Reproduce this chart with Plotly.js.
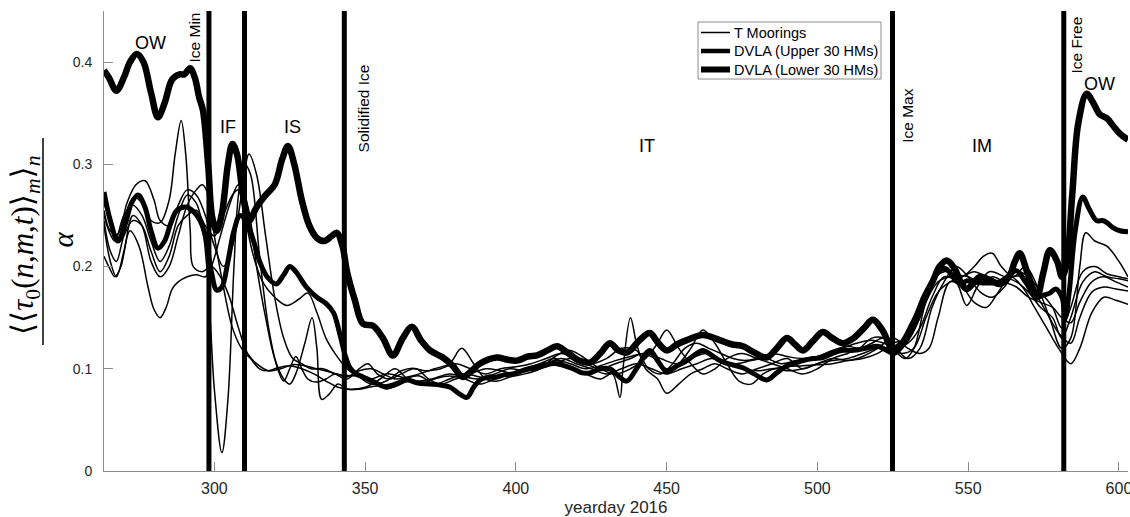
<!DOCTYPE html>
<html>
<head>
<meta charset="utf-8">
<script src="https://cdn.plot.ly/plotly-3.0.1.min.js"></script>
<style>
  html, body { margin: 0; padding: 0; background: #fff; }
  #chart { width: 1130px; height: 517px; }
</style>
</head>
<body>
<div id="chart"></div>
<script>
// ---- Temperature moorings (thin lines) ----
const mooring1Day = [263.4,266,268,271,273.5,276,279,282,285,287,289,290.5,292,293,296,299,302,305,308,311,314,318,322,326,330,334,338,342,347,352,357,362,367,372,378,383,388,393,398,403,408,413,418,423,428,433,438,443,448,453,458,463,468,473,478,483,488,493,498,503,508,513,518,522,526,530,534,538,542,546,549.5,553,557,562,566,570,574,578,581,584,588,592,596,600,603];
const mooring1Val = [0.262,0.24,0.225,0.255,0.268,0.262,0.245,0.243,0.265,0.31,0.343,0.31,0.235,0.2,0.195,0.2,0.19,0.17,0.14,0.115,0.105,0.098,0.1,0.104,0.103,0.1,0.097,0.094,0.093,0.09,0.095,0.092,0.088,0.09,0.095,0.092,0.09,0.095,0.1,0.098,0.1,0.108,0.105,0.1,0.103,0.108,0.112,0.115,0.11,0.105,0.11,0.115,0.108,0.105,0.108,0.11,0.105,0.108,0.11,0.115,0.12,0.125,0.128,0.125,0.12,0.125,0.14,0.17,0.19,0.185,0.162,0.18,0.195,0.19,0.185,0.175,0.16,0.15,0.13,0.15,0.185,0.195,0.19,0.188,0.186];

const mooring2Day = [263.4,265,267,269,272,275,278,280,282,284,286,288,291,294,297,299,302,305,308,311,314,317,320,323,325,327,330,332.4,334,335.6,338,341,344,348,353,358,363,368,373,378,383,388,393,398,403,408,413,418,423,428,432,434.5,435.5,438,440,443,447,450,454,458,462,466,470,475,480,485,490,495,500,505,510,515,520,525,530,534,537,540,544,548,552,556,560,564,568,572,576,580,584,587,591,595,599,603];
const mooring2Val = [0.21,0.2,0.19,0.2,0.235,0.22,0.18,0.158,0.15,0.16,0.178,0.185,0.19,0.192,0.19,0.2,0.23,0.26,0.28,0.26,0.2,0.15,0.11,0.09,0.085,0.095,0.125,0.15,0.12,0.07,0.075,0.085,0.08,0.08,0.083,0.085,0.09,0.093,0.085,0.09,0.095,0.092,0.09,0.095,0.1,0.105,0.11,0.1,0.095,0.09,0.095,0.072,0.1,0.15,0.125,0.1,0.09,0.076,0.085,0.095,0.1,0.105,0.1,0.095,0.1,0.105,0.11,0.1,0.105,0.11,0.108,0.112,0.12,0.13,0.12,0.115,0.12,0.15,0.185,0.18,0.165,0.16,0.175,0.19,0.18,0.16,0.14,0.12,0.105,0.12,0.155,0.17,0.167,0.163];

const mooring3Day = [263.4,265,267,270,273,276,279,282,285,288,291,294,296,298,300,302.5,304.5,306.5,308,310,312,315,318,321,323,325,327,329,331,334,337,340,344,348,352,356,360,364,368,373,378,382,386,390,394,398,403,408,413,418,423,428,433,438,443,447,450,454,458,462,466,470,475,480,485,490,495,500,505,510,514,518,522,525,529,532,536,540,544,548,552,555,558,561,565,569,573,577,581,584,587,589,592,596,600,603];
const mooring3Val = [0.25,0.235,0.225,0.25,0.26,0.25,0.225,0.205,0.22,0.25,0.27,0.262,0.24,0.18,0.08,0.018,0.07,0.2,0.27,0.3,0.29,0.21,0.14,0.1,0.088,0.1,0.112,0.1,0.09,0.087,0.09,0.095,0.092,0.098,0.1,0.095,0.09,0.092,0.095,0.1,0.105,0.12,0.105,0.09,0.088,0.092,0.095,0.1,0.112,0.118,0.11,0.1,0.095,0.1,0.11,0.125,0.138,0.12,0.105,0.095,0.1,0.11,0.115,0.11,0.105,0.1,0.095,0.1,0.11,0.115,0.12,0.13,0.13,0.12,0.11,0.12,0.165,0.185,0.19,0.19,0.2,0.21,0.213,0.2,0.19,0.2,0.18,0.15,0.12,0.13,0.2,0.233,0.225,0.22,0.205,0.19];

const mooring4Day = [263.4,265.5,267.5,270,273,276,279,282,285,288,291,294,297,300,303,306,308,310,313,316,320,324,328,331,334,337,340,344,348,352,357,362,367,371,375,380,385,390,395,400,405,410,415,420,425,430,435,440,445,450,455,460,465,470,475,480,485,490,495,500,505,510,515,520,525,530,534,538,542,546,550,554,558,562,566,570,574,578,581,584,587,591,595,599,603];
const mooring4Val = [0.245,0.215,0.205,0.23,0.245,0.24,0.215,0.195,0.21,0.24,0.25,0.255,0.24,0.23,0.25,0.27,0.275,0.25,0.21,0.185,0.17,0.162,0.168,0.174,0.155,0.13,0.115,0.1,0.092,0.085,0.088,0.098,0.1,0.09,0.085,0.09,0.095,0.1,0.098,0.095,0.1,0.105,0.11,0.105,0.1,0.095,0.1,0.105,0.1,0.095,0.1,0.105,0.11,0.105,0.1,0.098,0.1,0.102,0.103,0.104,0.105,0.108,0.11,0.115,0.125,0.13,0.15,0.185,0.195,0.192,0.19,0.185,0.19,0.185,0.18,0.17,0.165,0.16,0.15,0.145,0.165,0.185,0.19,0.185,0.18];

const mooring5Day = [263.4,265.5,267.5,270,273,276,279,282,285,288,291,294,296,298,300,303,306,309,312,315,318,321,325,329,333,337,341,345,350,355,360,364,368,373,378,383,388,393,398,403,408,413,418,423,428,433,438,442,446,450,454,458,462,466,470,474,478,482,486,490,495,500,505,510,515,520,524,528,532,536,540,544,548,552,556,560,564,568,572,576,580,584,587,591,595,599,603];
const mooring5Val = [0.24,0.205,0.19,0.215,0.25,0.24,0.205,0.19,0.2,0.23,0.26,0.275,0.28,0.27,0.23,0.18,0.14,0.12,0.11,0.1,0.098,0.101,0.103,0.1,0.095,0.088,0.082,0.08,0.082,0.09,0.1,0.09,0.085,0.09,0.093,0.09,0.085,0.09,0.095,0.098,0.1,0.105,0.11,0.105,0.1,0.105,0.11,0.115,0.11,0.1,0.105,0.12,0.138,0.125,0.105,0.088,0.085,0.095,0.1,0.098,0.1,0.105,0.108,0.11,0.115,0.12,0.12,0.115,0.12,0.15,0.175,0.185,0.19,0.195,0.19,0.185,0.19,0.19,0.175,0.155,0.135,0.125,0.15,0.175,0.18,0.178,0.176];

const mooring6Day = [263.4,265.5,268,271,274,277,280,282,285,288,291,294,297,300,303,306,309,311.5,314,317,320,323,326,329,332,336,340,344,348,351,354,358,362,366,370,375,380,385,390,395,400,405,410,415,420,425,430,435,440,444,448,452,456,460,464,468,472,476,480,485,490,495,500,505,510,514,518,522,526,530,534,538,542,546,550,554,558,562,566,570,574,578,581,584,588,592,596,600,603];
const mooring6Val = [0.255,0.235,0.232,0.262,0.28,0.284,0.265,0.245,0.24,0.26,0.275,0.27,0.25,0.22,0.2,0.22,0.27,0.31,0.29,0.23,0.17,0.13,0.11,0.105,0.1,0.1,0.095,0.09,0.1,0.105,0.095,0.09,0.095,0.1,0.098,0.1,0.105,0.1,0.095,0.1,0.102,0.105,0.11,0.115,0.11,0.105,0.11,0.12,0.118,0.1,0.095,0.105,0.12,0.125,0.12,0.115,0.11,0.108,0.11,0.115,0.112,0.11,0.112,0.118,0.122,0.12,0.125,0.13,0.12,0.11,0.12,0.16,0.185,0.2,0.19,0.175,0.17,0.18,0.195,0.19,0.175,0.16,0.14,0.16,0.195,0.2,0.193,0.19,0.188];

// ---- DVLA, upper 30 hydrophone modes ----
const dvlaUpperDay = [263.4,265.5,268,270.5,272.5,274.7,277,279,281.3,283.5,285.5,287.6,290.9,294.2,296,297.5,299,300.8,302.5,304.5,306.5,308.5,310.8,313,315,317.5,320.5,323,325,327,330.5,334,337,339.5,341.6,343.5,345,347,349.3,353,357.2,360.5,363.9,367.5,371.5,375,378.2,381,383.7,386,388.1,391,393.7,396,399,402,405.6,409.5,413.6,416,419,422,424.5,428,431.2,434,436.8,440,444.4,447,450.1,453,456.7,459,462,465,467.6,471.5,475.3,479,483.2,486.5,489.9,493,495.2,498.5,501.8,505,508.4,512,516,520,523,525.5,528,531,534,537,540,542.5,545,547.5,549.5,552,555,558,560.5,563,566,569,572.8,575,577.1,579,581.1,582.2,583.5,585.5,588,590,592.6,594.5,596,598,600.3,603];
const dvlaUpperVal = [0.273,0.245,0.225,0.242,0.262,0.27,0.258,0.235,0.218,0.225,0.242,0.255,0.258,0.25,0.24,0.223,0.195,0.177,0.18,0.205,0.235,0.25,0.243,0.225,0.205,0.19,0.183,0.192,0.2,0.195,0.18,0.17,0.164,0.155,0.134,0.112,0.101,0.095,0.092,0.087,0.082,0.085,0.089,0.086,0.085,0.084,0.082,0.076,0.072,0.082,0.089,0.092,0.092,0.094,0.095,0.098,0.101,0.104,0.105,0.103,0.1,0.096,0.096,0.1,0.1,0.093,0.088,0.1,0.118,0.108,0.097,0.102,0.108,0.113,0.118,0.113,0.108,0.104,0.101,0.095,0.089,0.096,0.103,0.106,0.108,0.11,0.111,0.115,0.118,0.118,0.12,0.122,0.118,0.115,0.122,0.135,0.155,0.178,0.195,0.198,0.19,0.183,0.186,0.185,0.184,0.184,0.185,0.19,0.196,0.185,0.17,0.172,0.174,0.178,0.17,0.15,0.175,0.235,0.268,0.257,0.245,0.245,0.243,0.238,0.235,0.234];

// ---- DVLA, lower 30 hydrophone modes ----
const dvlaLowerDay = [263.4,265,267.5,270,272,274.3,276.5,279,281.3,283.5,286,288.5,290,292,293.5,295,296.2,298,299.3,300.8,302.5,304.5,306,307.5,309.5,311.5,314,317,320,322.5,324.4,326.5,329,331.5,334,336.5,339,340.6,342.5,344,346.6,349.3,352.6,355.9,359.2,362.5,365.5,368.5,371.5,375.8,379,382.4,385,388,393.7,397,400.3,404,407,410.5,413.6,417,421,424.5,428,431.2,434,437,441,444.4,447,450.1,453.5,456.7,462,467.6,471.5,475.3,479,483.2,486.5,489.9,492.5,495.2,498.5,501.8,505,508.4,512,515.5,518.4,521.5,525,528,531,533,535.5,538.3,540.5,542.9,545.5,547.5,549.5,552,554,557,560.5,563.5,565.5,567.1,569.5,571.5,572.8,575,577.1,579.5,581.1,582.5,584.5,586.5,589.3,591.5,593.6,596,598,600.3,603];
const dvlaLowerVal = [0.392,0.385,0.372,0.385,0.4,0.408,0.4,0.37,0.346,0.36,0.383,0.388,0.388,0.394,0.385,0.365,0.353,0.297,0.248,0.235,0.252,0.3,0.32,0.31,0.27,0.245,0.258,0.27,0.28,0.305,0.318,0.3,0.265,0.24,0.228,0.225,0.23,0.233,0.22,0.195,0.167,0.144,0.142,0.13,0.113,0.13,0.141,0.128,0.118,0.111,0.103,0.092,0.097,0.105,0.111,0.109,0.108,0.112,0.113,0.118,0.122,0.116,0.108,0.106,0.115,0.125,0.118,0.116,0.128,0.135,0.126,0.118,0.124,0.128,0.133,0.128,0.124,0.122,0.116,0.111,0.12,0.13,0.124,0.118,0.127,0.136,0.13,0.125,0.13,0.14,0.148,0.138,0.12,0.125,0.14,0.152,0.17,0.186,0.2,0.206,0.198,0.185,0.178,0.185,0.19,0.187,0.183,0.19,0.205,0.213,0.195,0.178,0.17,0.195,0.216,0.205,0.19,0.2,0.27,0.34,0.369,0.36,0.349,0.345,0.338,0.33,0.324];

// ---- Ice phase boundaries and region names ----
const boundaryDays = [298.2, 310, 343.1, 524.9, 581.7];
const boundaryNames = ['Ice Min', '', 'Solidified Ice', 'Ice Max', 'Ice Free'];
const phaseNames = ['OW', 'IF', 'IS', 'IT', 'IM', 'OW'];

// ---- Legend entries ----
const legendNames = ['T Moorings', 'DVLA (Upper 30 HMs)', 'DVLA (Lower 30 HMs)'];
const legendWidths = [1.5, 4.5, 6];

const moorings = [
  [mooring1Day, mooring1Val], [mooring2Day, mooring2Val], [mooring3Day, mooring3Val],
  [mooring4Day, mooring4Val], [mooring5Day, mooring5Val], [mooring6Day, mooring6Val]
];

const traces = moorings.map(function (m) {
  return {
    type: 'scatter', mode: 'lines', x: m[0], y: m[1],
    name: legendNames[0], showlegend: false,
    line: { color: '#000', width: 1.5, shape: 'spline', smoothing: 1 },
    hoverinfo: 'skip'
  };
});
traces.push({
  type: 'scatter', mode: 'lines', x: dvlaUpperDay, y: dvlaUpperVal,
  name: legendNames[1], showlegend: false,
  line: { color: '#000', width: 5, shape: 'spline', smoothing: 1 }
});
traces.push({
  type: 'scatter', mode: 'lines', x: dvlaLowerDay, y: dvlaLowerVal,
  name: legendNames[2], showlegend: false,
  line: { color: '#000', width: 6.5, shape: 'spline', smoothing: 1 }
});

// plot area in pixels (from the margins below), used to place decorations
const M = { l: 104, r: 2, t: 11, b: 46 };
const W = 1130, H = 517;
const plotW = W - M.l - M.r, plotH = H - M.t - M.b;
function paperX(px) { return (px - M.l) / plotW; }
function paperY(py) { return (H - M.b - py) / plotH; }

// vertical phase boundaries
const shapes = boundaryDays.map(function (d) {
  return { type: 'line', xref: 'x', yref: 'paper', x0: d, x1: d, y0: 0, y1: 1,
           line: { color: '#000', width: 5 }, layer: 'above' };
});
// fraction bar of the y-axis label
shapes.push({ type: 'line', xref: 'paper', yref: 'paper', x0: paperX(43), x1: paperX(43),
              y0: paperY(345), y1: paperY(138), line: { color: '#000', width: 1.5 } });

const annotations = [];

// legend box with line samples and names
const axisGrey = '#8c8c8c';
shapes.push({ type: 'rect', xref: 'paper', yref: 'paper',
              x0: paperX(698), x1: paperX(881), y0: paperY(79), y1: paperY(22),
              line: { color: axisGrey, width: 1 }, fillcolor: '#fff', layer: 'above' });
legendNames.forEach(function (t, i) {
  const rowY = paperY(32.5 + i * 18.5);
  shapes.push({ type: 'line', xref: 'paper', yref: 'paper',
                x0: paperX(701), x1: paperX(730), y0: rowY, y1: rowY,
                line: { color: '#000', width: legendWidths[i] }, layer: 'above' });
  annotations.push({
    text: t, xref: 'paper', yref: 'paper', x: paperX(731.5), y: rowY,
    xanchor: 'left', yanchor: 'middle', showarrow: false,
    font: { family: 'Liberation Sans, Arial, sans-serif', size: 14.5, color: '#000' }
  });
});

// boundary captions: horizontal pixel offset from the line and vertical centre
const boundaryShift = [-14, 0, 19, 15, 13];
const boundaryY = [0.424, 0, 0.355, 0.348, 0.417];
boundaryNames.forEach(function (t, i) {
  if (!t) return;
  annotations.push({
    text: t, x: boundaryDays[i], y: boundaryY[i], xref: 'x', yref: 'y',
    xshift: boundaryShift[i], textangle: -90, showarrow: false,
    xanchor: 'center', yanchor: 'middle',
    font: { family: 'Liberation Sans, Arial, sans-serif', size: 15.5, color: '#000' }
  });
});

// phase names placed inside each region
const phaseX = [278.7, 304.5, 326, 443.4, 554.5, 593.6];
const phaseY = [0.419, 0.337, 0.337, 0.318, 0.318, 0.379];
phaseNames.forEach(function (t, i) {
  annotations.push({
    text: t, x: phaseX[i], y: phaseY[i], xref: 'x', yref: 'y', showarrow: false,
    xanchor: 'center', yanchor: 'middle',
    font: { family: 'Liberation Sans, Arial, sans-serif', size: 18, color: '#000' }
  });
});

// y-axis label drawn as a fraction
annotations.push({
  text: '⟨⟨<i>τ</i><sub>0</sub>(<i>n</i>,<i>m</i>,<i>t</i>)⟩<sub><i>m</i></sub>⟩<sub><i>n</i></sub>',
  xref: 'paper', yref: 'paper', x: paperX(25), y: paperY(245), textangle: -90, showarrow: false,
  xanchor: 'center', yanchor: 'middle',
  font: { family: 'Liberation Serif, DejaVu Serif, serif', size: 31, color: '#000' }
});
annotations.push({
  text: '<i>α</i>', xref: 'paper', yref: 'paper', x: paperX(62.5), y: paperY(240), textangle: -90,
  showarrow: false, xanchor: 'center', yanchor: 'middle',
  font: { family: 'Liberation Serif, DejaVu Serif, serif', size: 29, color: '#000' }
});

const layout = {
  width: W, height: H,
  margin: { l: M.l, r: M.r, t: M.t, b: M.b, pad: 0 },
  paper_bgcolor: '#fff', plot_bgcolor: '#fff',
  font: { family: 'Liberation Sans, Arial, sans-serif', color: '#262626' },
  showlegend: false,
  xaxis: {
    range: [263.4, 603], tick0: 0, dtick: 50, ticks: 'inside', ticklen: 9,
    tickcolor: axisGrey, showline: true, linecolor: axisGrey, linewidth: 1,
    showgrid: false, zeroline: false, tickfont: { size: 16, color: '#262626' },
    ticklabelstandoff: 3, ticklabeloverflow: 'allow',
    title: { text: 'yearday 2016', font: { size: 17, color: '#262626' }, standoff: 4 }
  },
  yaxis: {
    range: [0, 0.45], tick0: 0, dtick: 0.1, ticks: 'inside', ticklen: 9,
    tickcolor: axisGrey, showline: true, linecolor: axisGrey, linewidth: 1,
    showgrid: false, zeroline: false, tickfont: { size: 14, color: '#262626' },
    ticklabelstandoff: 8
  },
  shapes: shapes,
  annotations: annotations
};

Plotly.newPlot('chart', traces, layout, { displayModeBar: false, staticPlot: true });
</script>
</body>
</html>
